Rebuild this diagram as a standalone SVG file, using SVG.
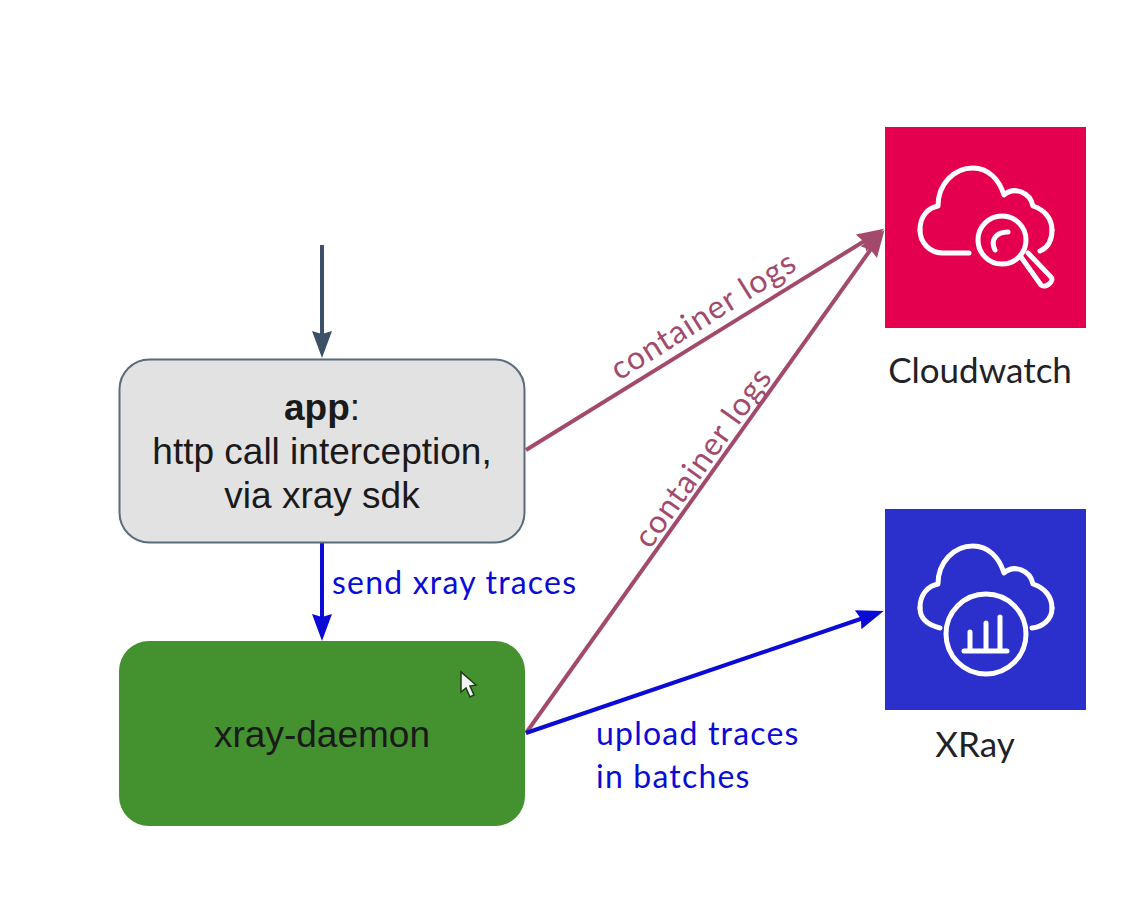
<svg xmlns="http://www.w3.org/2000/svg" width="1148" height="904" viewBox="0 0 1148 904">
<style>
.s{font-family:"Liberation Sans",Arial,sans-serif;font-size:37px;fill:#1a1a1a;text-anchor:middle}
.l{font-family:Lato,"Open Sans",sans-serif;font-size:32px}
.sp{letter-spacing:1.2px}
.b{fill:#0b0bd6}
.m{fill:#a34a6c}
.k{fill:#1f2328;font-size:35px;text-anchor:middle}
.i{fill:none;stroke:#fff;stroke-width:5;stroke-linecap:round;stroke-linejoin:round}
.c{fill:none;stroke-width:4}
</style>
<defs>
<marker id="ab" markerUnits="userSpaceOnUse" markerWidth="30" markerHeight="24" refX="21" refY="10" orient="auto"><path d="M0 0L27 10L0 20L3 10Z" fill="#0b0bd6"/></marker>
<marker id="am" markerUnits="userSpaceOnUse" markerWidth="30" markerHeight="24" refX="21" refY="10" orient="auto"><path d="M0 0L27 10L0 20L3 10Z" fill="#a34a6c"/></marker>
<marker id="ad" markerUnits="userSpaceOnUse" markerWidth="30" markerHeight="24" refX="21" refY="10" orient="auto"><path d="M0 0L27 10L0 20L3 10Z" fill="#3c5068"/></marker>
<path id="cl" d="M920 230C920 216 928 208 938 206C938 184 954 168 973 168C988 168 999 179 1004 195C1014 186 1030 192 1033 206C1045 210 1052 219 1052 230"/>
</defs>
<rect width="1148" height="904" fill="#fff"/>
<g id="connectors">
<path class="c" d="M322 245V352" stroke="#3c5068" marker-end="url(#ad)"/>
<path class="c" d="M322 543V635" stroke="#0b0bd6" marker-end="url(#ab)"/>
<path class="c" d="M526 450L879 232" stroke="#a34a6c" marker-end="url(#am)"/>
<path class="c" d="M526 733L881 235" stroke="#a34a6c" marker-end="url(#am)"/>
<path class="c" d="M526 733L878 613" stroke="#0b0bd6" marker-end="url(#ab)"/>
<text class="l m sp" transform="translate(619 381) rotate(-32)">container logs</text>
<text class="l m sp" transform="translate(650 550) rotate(-54.500)">container logs</text>
<text class="l b sp" x="332" y="594">send xray traces</text>
<text class="l b sp" x="596" y="745">upload traces</text>
<text class="l b sp" x="596" y="788">in batches</text>
</g>
<g id="app">
<rect x="119.500" y="359.500" width="405" height="183" rx="30" fill="#e2e2e2" stroke="#5a6b7e" stroke-width="2"/>
<text class="s" x="322" y="420"><tspan font-weight="bold">app</tspan>:</text>
<text class="s" x="322" y="464">http call interception,</text>
<text class="s" x="322" y="508">via xray sdk</text>
</g>
<g id="xray-daemon">
<rect x="119" y="641" width="406" height="185" rx="30" fill="#44912f"/>
<text class="s" x="322" y="747">xray-daemon</text>
<path d="M461 672V692L466 688L470 697L474 695L470 686L476 685Z" fill="#f2f2f2" stroke="#1d3d18" stroke-width="1.500"/>
</g>
<g id="cloudwatch">
<rect x="885" y="127" width="201" height="201" fill="#e5004f"/>
<use href="#cl" class="i"/>
<path class="i" d="M969 253H943C930 253 920 243 920 230"/>
<path class="i" d="M1052 230C1052 241 1047 248 1040 251"/>
<circle class="i" cx="1002" cy="240" r="24"/>
<path class="i" d="M995 250C990 240 996 232 1008 232"/>
<path class="i" d="M1021 257L1041 285C1045 289 1055 281 1051 277L1028 253"/>
<text class="l k" x="980" y="383">Cloudwatch</text>
</g>
<g id="xray">
<rect x="885" y="509" width="201" height="201" fill="#2b2fcb"/>
<g transform="translate(0 378)"><use href="#cl" class="i"/></g>
<path class="i" d="M920 608C920 619 928 625 940 628"/>
<path class="i" d="M1032 628C1042 627 1052 620 1052 608"/>
<circle class="i" cx="986" cy="634" r="40"/>
<path class="i" d="M964 651H1007M970 651V632M986 651V623M1000 651V617"/>
<text class="l k" x="975" y="757">XRay</text>
</g>
</svg>
